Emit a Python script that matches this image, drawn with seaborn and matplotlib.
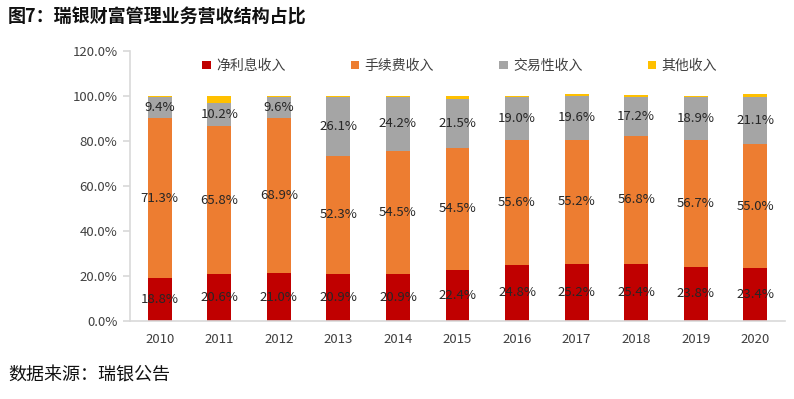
import numpy as np
import pandas as pd
import matplotlib
matplotlib.use("Agg")
import matplotlib.pyplot as plt
from matplotlib.patches import Patch
import seaborn as sns

years = ["2010", "2011", "2012", "2013", "2014", "2015", "2016", "2017", "2018", "2019", "2020"]
net_interest = [18.8, 20.6, 21.0, 20.9, 20.9, 22.4, 24.8, 25.2, 25.4, 23.8, 23.4]
fee_income = [71.3, 65.8, 68.9, 52.3, 54.5, 54.5, 55.6, 55.2, 56.8, 56.7, 55.0]
trading_income = [9.4, 10.2, 9.6, 26.1, 24.2, 21.5, 19.0, 19.6, 17.2, 18.9, 21.1]
other_income = [0.5, 3.4, 0.5, 0.7, 0.4, 1.6, 0.6, 0.8, 1.0, 0.6, 1.2]
series_names = ["净利息收入", "手续费收入", "交易性收入", "其他收入"]
colors = ["#C00000", "#ED7D31", "#A5A5A5", "#FFC000"]
yticks = [0, 20, 40, 60, 80, 100, 120]

sns.set_theme(style="white")
plt.rcParams["font.family"] = ["Noto Sans CJK SC", "DejaVu Sans"]

df = pd.DataFrame({"year": years, "net": net_interest, "fee": fee_income,
                   "trade": trading_income, "other": other_income})
cols = ["net", "fee", "trade", "other"]

fig = plt.figure(figsize=(7.94, 3.99), dpi=100)
ax = fig.add_axes([0.1637, 0.1962, 0.8250, 0.6768])

bottom = np.zeros(len(df))
for i, c in enumerate(cols):
    sns.barplot(data=df, x="year", y=c, color=colors[i], width=0.4,
                bottom=bottom.copy(), ax=ax, saturation=1, linewidth=0)
    bottom = bottom + df[c].to_numpy()

for i, cont in enumerate(ax.containers[:3]):
    ax.bar_label(cont, labels=[f"{v:.1f}%" for v in df[cols[i]]],
                 label_type="center", fontsize=9.5, color="#262626")

ax.set_ylim(0, 120)
ax.set_yticks(yticks)
ax.set_yticklabels([f"{v:.1f}%" for v in yticks])
ax.set_xlim(-0.5, len(years) - 0.5)
ax.set_xlabel("")
ax.set_ylabel("")
for s in ["top", "right"]:
    ax.spines[s].set_visible(False)
for s in ["left", "bottom"]:
    ax.spines[s].set_color("#D9D9D9")
    ax.spines[s].set_linewidth(1.2)
ax.tick_params(axis="y", left=True, length=5, color="#D9D9D9", labelsize=9.5,
               labelcolor="#404040", pad=4)
ax.tick_params(axis="x", bottom=False, labelsize=9.5, labelcolor="#404040", pad=3)

handles = [Patch(facecolor=colors[i], edgecolor="none", label=series_names[i]) for i in range(4)]
fig.legend(handles=handles, loc="center", bbox_to_anchor=(0.579, 0.835), ncol=4,
           frameon=False, fontsize=10, handlelength=0.6, handleheight=0.6,
           handletextpad=0.4, columnspacing=4.7, labelcolor="#404040")

fig.text(0.01, 0.957, "图7：瑞银财富管理业务营收结构占比", fontsize=13, fontweight="bold",
         ha="left", va="center", color="#111111")
fig.text(0.01, 0.058, "数据来源：瑞银公告", fontsize=13, ha="left", va="center",
         color="#111111")

fig.savefig("out.png", dpi=100)
